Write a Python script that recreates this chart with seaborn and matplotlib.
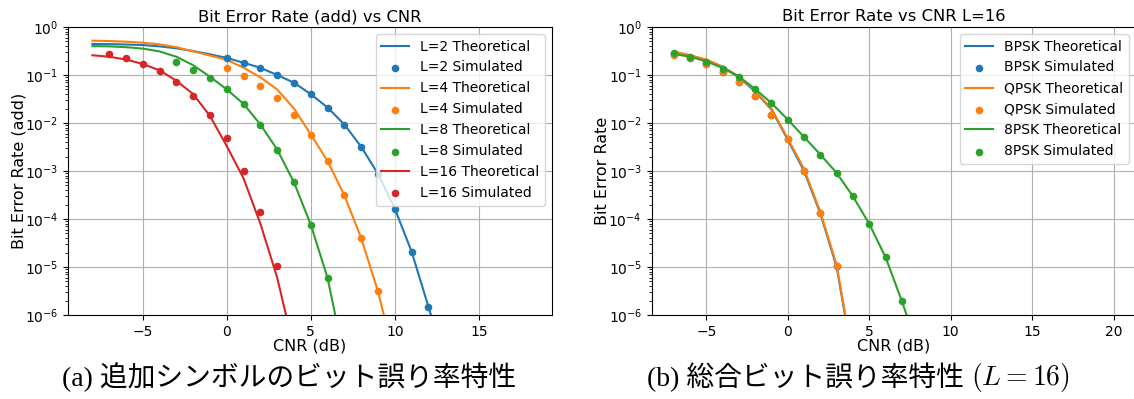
import matplotlib
matplotlib.use("Agg")
import matplotlib.pyplot as plt
import seaborn as sns

# ---------------- data: left panel (additional symbols) ----------------
L2_theory_x = list(range(-8, 14))
L2_theory_y = [0.444, 0.44, 0.432, 0.42, 0.395, 0.36, 0.315, 0.27, 0.227, 0.18, 0.141,
               0.10, 0.069, 0.040, 0.021, 0.0093, 3.2e-3, 8.7e-4, 1.65e-4, 2.1e-5, 1.5e-6, 1e-7]
L2_sim_x = list(range(0, 13))
L2_sim_y = [0.227, 0.18, 0.141, 0.10, 0.069, 0.040, 0.021, 0.0093, 3.2e-3, 8.7e-4,
            1.65e-4, 2.1e-5, 1.5e-6]

L4_theory_x = list(range(-8, 11))
L4_theory_y = [0.52, 0.51, 0.495, 0.47, 0.435, 0.38, 0.31, 0.255, 0.206, 0.142, 0.0895,
               0.050, 0.020, 5.8e-3, 1.6e-3, 3.1e-4, 4.0e-5, 3.1e-6, 1.2e-7]
L4_sim_x = list(range(0, 10))
L4_sim_y = [0.138, 0.097, 0.060, 0.034, 0.015, 5.6e-3, 1.6e-3, 3.1e-4, 4.0e-5, 3.1e-6]

L8_theory_x = list(range(-8, 8))
L8_theory_y = [0.40, 0.395, 0.38, 0.355, 0.31, 0.24, 0.16, 0.092, 0.050, 0.025, 9.3e-3,
               2.8e-3, 5.8e-4, 7.6e-5, 5.9e-6, 1.2e-7]
L8_sim_x = list(range(-3, 7))
L8_sim_y = [0.184, 0.13, 0.087, 0.050, 0.025, 9.3e-3, 2.8e-3, 5.8e-4, 7.6e-5, 5.9e-6]

L16_theory_x = list(range(-8, 5))
L16_theory_y = [0.258, 0.24, 0.21, 0.17, 0.125, 0.076, 0.040, 0.014, 3.3e-3, 7e-4,
                8e-5, 6e-6, 2e-7]
L16_sim_x = list(range(-7, 4))
L16_sim_y = [0.279, 0.226, 0.172, 0.121, 0.072, 0.037, 0.015, 4.8e-3, 1.0e-3, 1.42e-4, 1.05e-5]

# ---------------- data: right panel (total, L=16) ----------------
BPSK_theory_x = list(range(-7, 5))
BPSK_theory_y = [0.30, 0.255, 0.205, 0.147, 0.09, 0.045, 0.019, 4.5e-3, 1.0e-3, 1.3e-4,
                 1.0e-5, 1.1e-7]
BPSK_sim_x = list(range(-7, 4))
BPSK_sim_y = [0.28, 0.222, 0.172, 0.118, 0.071, 0.0367, 0.015, 4.7e-3, 1.02e-3, 1.35e-4, 1.04e-5]

QPSK_theory_x = list(range(-7, 5))
QPSK_theory_y = [0.307, 0.26, 0.21, 0.15, 0.093, 0.047, 0.0199, 4.8e-3, 1.1e-3, 1.4e-4,
                 1.1e-5, 1.2e-7]
QPSK_sim_x = list(range(-7, 4))
QPSK_sim_y = [0.265, 0.222, 0.172, 0.118, 0.071, 0.0367, 0.015, 4.7e-3, 1.02e-3, 1.35e-4, 1.04e-5]

PSK8_theory_x = list(range(-7, 9))
PSK8_theory_y = [0.275, 0.24, 0.193, 0.14, 0.093, 0.051, 0.026, 0.0118, 5.1e-3, 2.2e-3,
                 9.1e-4, 2.96e-4, 7.9e-5, 1.6e-5, 1.95e-6, 2e-7]
PSK8_sim_x = list(range(-7, 8))
PSK8_sim_y = [0.29, 0.24, 0.184, 0.134, 0.0895, 0.051, 0.026, 0.0118, 5.1e-3, 2.2e-3,
              9.1e-4, 2.96e-4, 7.9e-5, 1.6e-5, 1.95e-6]

left_series = [
    ("L=2", L2_theory_x, L2_theory_y, L2_sim_x, L2_sim_y),
    ("L=4", L4_theory_x, L4_theory_y, L4_sim_x, L4_sim_y),
    ("L=8", L8_theory_x, L8_theory_y, L8_sim_x, L8_sim_y),
    ("L=16", L16_theory_x, L16_theory_y, L16_sim_x, L16_sim_y),
]
right_series = [
    ("BPSK", BPSK_theory_x, BPSK_theory_y, BPSK_sim_x, BPSK_sim_y),
    ("QPSK", QPSK_theory_x, QPSK_theory_y, QPSK_sim_x, QPSK_sim_y),
    ("8PSK", PSK8_theory_x, PSK8_theory_y, PSK8_sim_x, PSK8_sim_y),
]

colors = sns.color_palette("tab10")

fig = plt.figure(figsize=(11.34, 3.99), dpi=100)
ax1 = fig.add_axes([0.060, 0.2105, 0.4268, 0.7218])
ax2 = fig.add_axes([0.5747, 0.2105, 0.4268, 0.7218])


def draw(ax, series, xlim, title, ylabel):
    ax.set_yscale("log")
    handles, labels = [], []
    for i, (name, tx, ty, sx, sy) in enumerate(series):
        c = colors[i]
        sns.lineplot(x=tx, y=ty, ax=ax, color=c, linewidth=1.5, legend=False)
        handles.append(ax.lines[-1]); labels.append(f"{name} Theoretical")
        sns.scatterplot(x=sx, y=sy, ax=ax, color=c, s=30, linewidth=0, legend=False, zorder=3)
        handles.append(ax.collections[-1]); labels.append(f"{name} Simulated")
    ax.set_xlim(*xlim)
    ax.set_ylim(1e-6, 1)
    ax.grid(True, which="major", color="#b0b0b0", linewidth=0.8)
    ax.set_title(title, fontsize=11.8, pad=4)
    ax.set_xlabel("CNR (dB)", fontsize=11.5, labelpad=0)
    ax.set_ylabel(ylabel, fontsize=11.5, labelpad=-1)
    ax.tick_params(labelsize=10)
    leg = ax.legend(handles, labels, loc="upper right", fontsize=10)
    leg.set_zorder(10)


draw(ax1, left_series, (-9.45, 19.36), "Bit Error Rate (add) vs CNR", "Bit Error Rate (add)")
draw(ax2, right_series, (-8.35, 21.35), "Bit Error Rate vs CNR L=16", "Bit Error Rate")

cap_family = ["Liberation Serif", "Noto Sans CJK JP"]
fig.text(0.255, 0.055, "(a) 追加シンボルのビット誤り率特性", ha="center", va="center",
         fontsize=20, family=cap_family)

# caption (b): plain part + math part placed side by side
renderer = fig.canvas.get_renderer()
t1 = fig.text(0, 0.055, "(b) 総合ビット誤り率特性", ha="left", va="center",
              fontsize=20, family=cap_family)
t2 = fig.text(0, 0.055, r"$(L = 16)$", ha="left", va="center", fontsize=20,
              math_fontfamily="cm")
w1 = t1.get_window_extent(renderer).width
w2 = t2.get_window_extent(renderer).width
gap = 8
W = fig.bbox.width
cx = 0.757 * W
x0 = cx - (w1 + gap + w2) / 2
t1.set_x(x0 / W)
t2.set_x((x0 + w1 + gap) / W)

fig.savefig("out.png", dpi=100)
